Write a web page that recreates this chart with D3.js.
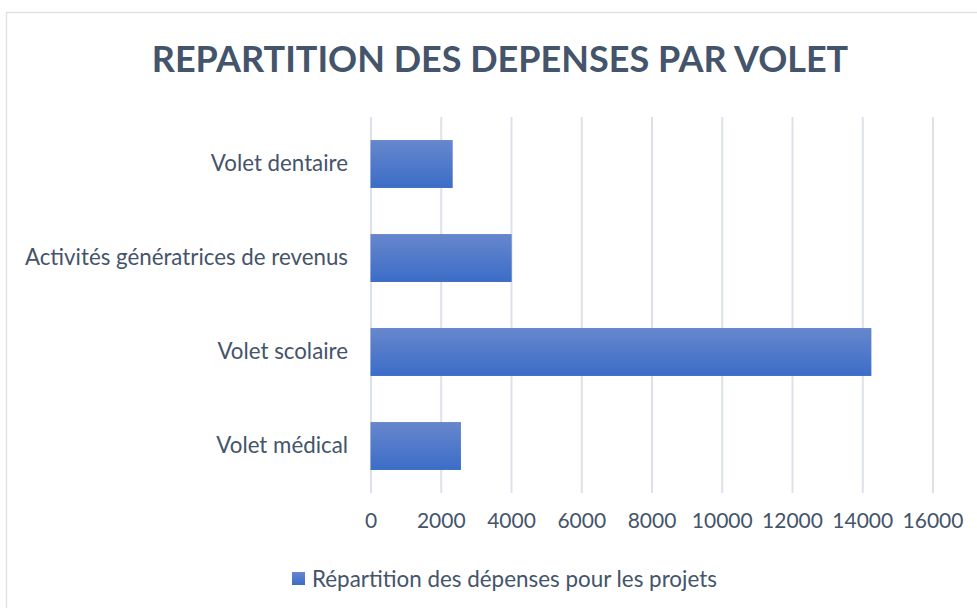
<!DOCTYPE html>
<html>
<head>
<meta charset="utf-8">
<script src="https://cdn.jsdelivr.net/npm/d3@7"></script>
<style>
  body { margin: 0; background: #fff; }
  svg { display: block; font-family: Lato, "Open Sans", sans-serif; }
</style>
</head>
<body>
<script>
var width = 977,
    height = 608;

// données
const categories = ["Volet dentaire", "Activités génératrices de revenus", "Volet scolaire", "Volet médical"];
const depenses = [2340, 4020, 14260, 2575];
const tickValues = [0, 2000, 4000, 6000, 8000, 10000, 12000, 14000, 16000];
const titre = "REPARTITION DES DEPENSES PAR VOLET";
const serieNom = "Répartition des dépenses pour les projets";

var textColor = "#44546a";

var svg = d3.select("body").append("svg")
    .attr("width", width)
    .attr("height", height);

// dégradé des barres
var defs = svg.append("defs");
var grad = defs.append("linearGradient")
    .attr("id", "barGrad")
    .attr("x1", 0).attr("y1", 0).attr("x2", 0).attr("y2", 1);
grad.append("stop").attr("offset", "0%").attr("stop-color", "#6787cd");
grad.append("stop").attr("offset", "100%").attr("stop-color", "#3b6dc7");

// cadre
svg.append("rect")
    .attr("x", 6.5).attr("y", 12.5)
    .attr("width", width + 20).attr("height", height + 20)
    .attr("fill", "none")
    .attr("stroke", "#dfe3e8")
    .attr("stroke-width", 1.5);

var x = d3.scaleLinear()
    .domain([0, 16000])
    .range([370.5, 932.5]);

var y = d3.scaleBand()
    .domain(categories)
    .range([117, 493])
    .paddingInner(0.49)
    .paddingOuter(0.245);

// grille verticale
var grid = svg.append("g")
    .attr("transform", "translate(0,493)")
    .call(d3.axisBottom(x).tickValues(tickValues).tickSize(-(493 - 117)).tickFormat(""));
grid.select(".domain").remove();
grid.selectAll(".tick line")
    .attr("stroke", "#dde2ea")
    .attr("stroke-width", 2);

// barres
svg.append("g").selectAll("rect")
    .data(categories)
    .join("rect")
    .attr("x", x(0))
    .attr("y", d => y(d))
    .attr("width", (d, i) => x(depenses[i]) - x(0))
    .attr("height", y.bandwidth())
    .attr("fill", "url(#barGrad)");

// axe des valeurs
var xAxis = svg.append("g")
    .attr("transform", "translate(0,513)")
    .call(d3.axisBottom(x).tickValues(tickValues).tickSize(0).tickPadding(0).tickFormat(d3.format("d")));
xAxis.select(".domain").remove();
xAxis.selectAll("text")
    .attr("dy", "0.71em")
    .attr("fill", textColor)
    .style("font-size", "21px")
    .style("font-family", "Lato, sans-serif");

// axe des catégories
var yAxis = svg.append("g")
    .attr("transform", "translate(348,0)")
    .call(d3.axisLeft(y).tickSize(0).tickPadding(0));
yAxis.select(".domain").remove();
yAxis.selectAll("text")
    .attr("fill", textColor)
    .style("font-size", "22.3px")
    .style("font-family", "Lato, sans-serif");

// titre
svg.append("text")
    .attr("x", 500)
    .attr("y", 72)
    .attr("text-anchor", "middle")
    .attr("fill", textColor)
    .style("font-size", "36px")
    .style("font-weight", "bold")
    .text(titre);

// légende
var leg = svg.append("g").attr("transform", "translate(292,572)");
leg.append("rect")
    .attr("width", 13).attr("height", 13)
    .attr("fill", "url(#barGrad)");
leg.append("text")
    .attr("x", 20)
    .attr("y", 7)
    .attr("dy", "0.35em")
    .attr("fill", textColor)
    .style("font-size", "22.4px")
    .text(serieNom);
</script>
</body>
</html>
